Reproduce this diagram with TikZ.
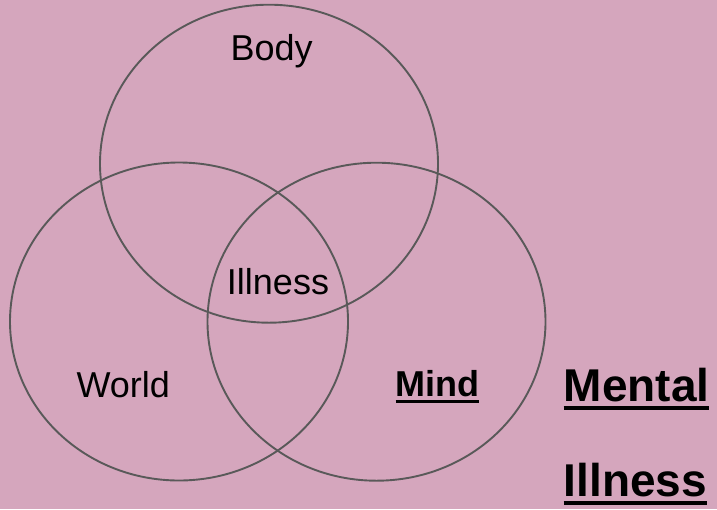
\documentclass[tikz,border=0pt]{standalone}
\usepackage{fontspec}
\setmainfont{Liberation Sans}
\usepackage{xcolor}
\usetikzlibrary{shapes.geometric}

\definecolor{bgpink}{HTML}{D5A6BD}
\definecolor{ringgray}{HTML}{595959}

\newsavebox{\ulbox}
\newcommand{\smallul}[1]{\sbox{\ulbox}{#1}\rlap{\rule[-6.5pt]{\wd\ulbox}{3pt}}\usebox{\ulbox}}
\newcommand{\bigul}[1]{\sbox{\ulbox}{#1}\rlap{\rule[-9pt]{\wd\ulbox}{4.3pt}}\usebox{\ulbox}}

\begin{document}
\begin{tikzpicture}[
        x=1pt, y=-1pt,
        setring/.style={
            ellipse,
            draw=ringgray,
            line width=1.9pt,
            minimum width=338pt,
            minimum height=318pt,
            inner sep=0pt
        },
        setlabel/.style={
            anchor=base,
            inner sep=0pt,
            font=\fontsize{36}{40}\selectfont
        },
        titlelabel/.style={
            anchor=base west,
            inner sep=0pt,
            font=\fontsize{46}{50}\selectfont\bfseries
        }
    ]

    % 背景
    \fill[bgpink] (0,0) rectangle (717,509);
    \useasboundingbox (0,0) rectangle (717,509);

    % 集合
    \node[setring] (bodyset) at (269,163.7) {};
    \node[setring] (worldset) at (179,321.5) {};
    \node[setring] (mindset) at (376.5,321.7) {};

    % 标签
    \node[setlabel] (body) at (271.7,60) {Body};
    \node[setlabel] (illness) at (278,294.3) {Illness};
    \node[setlabel] (world) at (123.3,397.3) {World};
    \node[setlabel, font=\fontsize{36}{40}\selectfont\bfseries] (mind) at (437.5,396) {\smallul{Mind}};

    \node[titlelabel] (mental) at (563.5,401) {\bigul{Mental}};
    \node[titlelabel] (mentalillness) at (563.5,496) {\bigul{Illness}};

\end{tikzpicture}
\end{document}
